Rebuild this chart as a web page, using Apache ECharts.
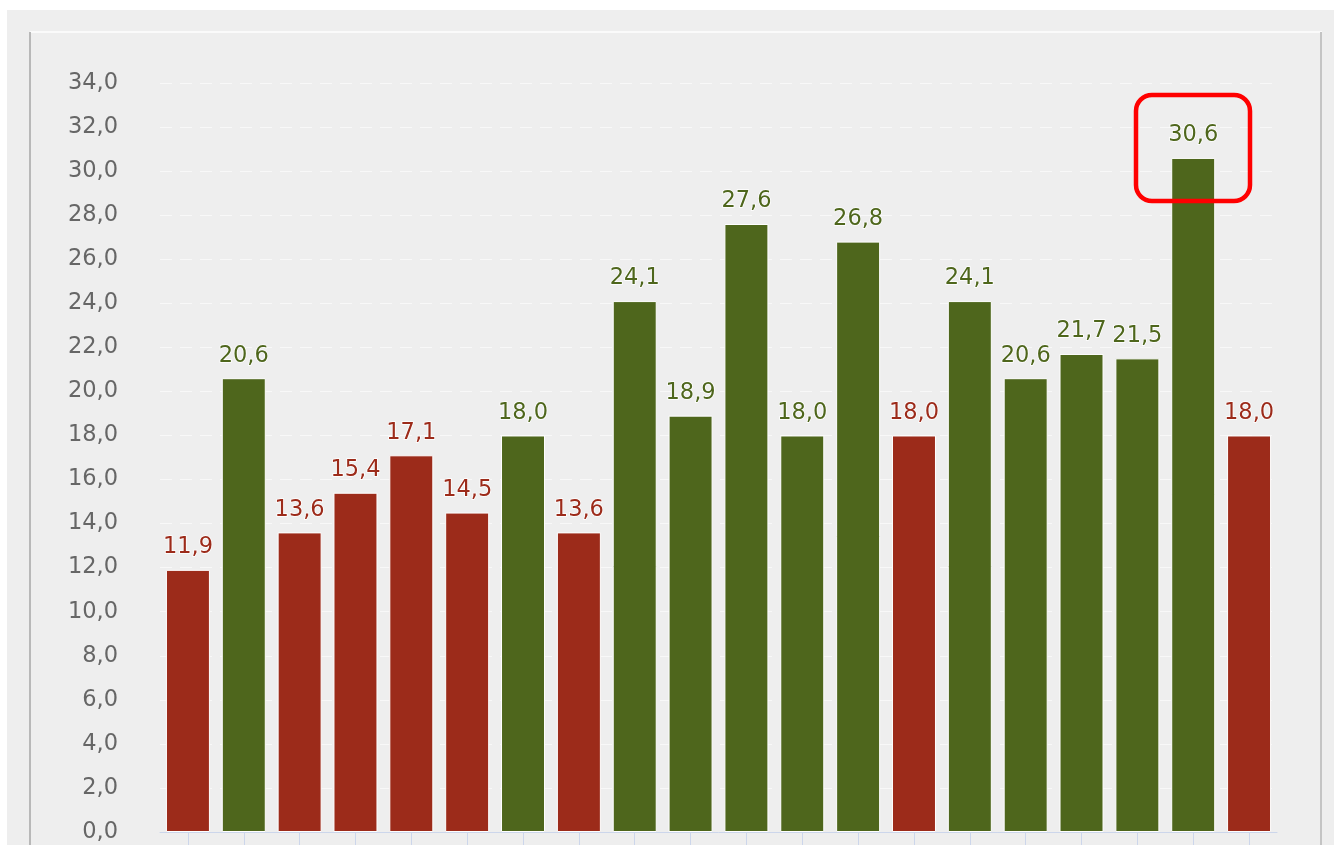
<!DOCTYPE html>
<html>
<head>
<meta charset="utf-8">
<script src="https://cdn.jsdelivr.net/npm/echarts@6/dist/echarts.min.js"></script>
<style>
html,body{margin:0;padding:0;background:#fff;}
#c{width:1334px;height:845px;}
</style>
</head>
<body>
<div id="c"></div>
<script>
const categories = ['1','2','3','4','5','6','7','8','9','10','11','12','13','14','15','16','17','18','19','20'];
const values = [11.9, 20.6, 13.6, 15.4, 17.1, 14.5, 18.0, 13.6, 24.1, 18.9, 27.6, 18.0, 26.8, 18.0, 24.1, 20.6, 21.7, 21.5, 30.6, 18.0];
const kinds = ['r','g','r','r','r','r','g','r','g','g','g','g','g','r','g','g','g','g','g','r'];
const yTicks = {min: 0, max: 34, interval: 2};

const RED = '#9c2b1a', GREEN = '#4e661c';
const chart = echarts.init(document.getElementById('c'));
const data = values.map((v, i) => {
  const c = kinds[i] === 'r' ? RED : GREEN;
  return {value: v, itemStyle: {color: c}, label: {color: c}};
});
chart.setOption({
  backgroundColor: '#ffffff',
  animation: false,
  grid: {left: 160, right: 57, top: 83, bottom: 13, containLabel: false},
  graphic: [
    {type: 'rect', z: -10, silent: true, shape: {x: 7, y: 10, width: 1327, height: 835}, style: {fill: '#eeeeee'}},
    {type: 'line', z: -9, silent: true, shape: {x1: 30, y1: 32, x2: 1322, y2: 32}, style: {stroke: '#fafafa', lineWidth: 2}},
    {type: 'line', z: -9, silent: true, shape: {x1: 30, y1: 32, x2: 30, y2: 845}, style: {stroke: '#b8b8b8', lineWidth: 2}},
    {type: 'line', z: -9, silent: true, shape: {x1: 1321, y1: 32, x2: 1321, y2: 845}, style: {stroke: '#c4c4c4', lineWidth: 2}},
    {type: 'rect', z: 100, silent: true, shape: {x: 1136, y: 95, width: 114, height: 106, r: 16}, style: {fill: 'none', stroke: '#ff0000', lineWidth: 4.5}}
  ],
  xAxis: {
    type: 'category',
    data: categories,
    axisLine: {show: true, lineStyle: {color: '#ccd6eb', width: 1}},
    axisTick: {show: true, alignWithLabel: true, length: 14, lineStyle: {color: '#ccd6eb'}},
    axisLabel: {show: false},
    splitLine: {show: false}
  },
  yAxis: {
    type: 'value',
    min: yTicks.min, max: yTicks.max, interval: yTicks.interval,
    axisLine: {show: false},
    axisTick: {show: false},
    axisLabel: {
      margin: 42,
      color: '#666666',
      fontSize: 22.5,
      fontFamily: 'DejaVu Sans',
      formatter: v => v.toFixed(1).replace('.', ',')
    },
    splitLine: {show: true, lineStyle: {color: '#f8f8f8', type: [12, 8], width: 1}}
  },
  series: [{
    type: 'bar',
    data: data,
    barWidth: 44,
    itemStyle: {borderColor: '#ffffff', borderWidth: 1},
    label: {
      show: true,
      position: 'top',
      distance: 11,
      fontSize: 22.5,
      fontFamily: 'DejaVu Sans',
      textBorderColor: '#ffffff',
      textBorderWidth: 1.5,
      formatter: p => p.value.toFixed(1).replace('.', ',')
    }
  }]
});
</script>
</body>
</html>
